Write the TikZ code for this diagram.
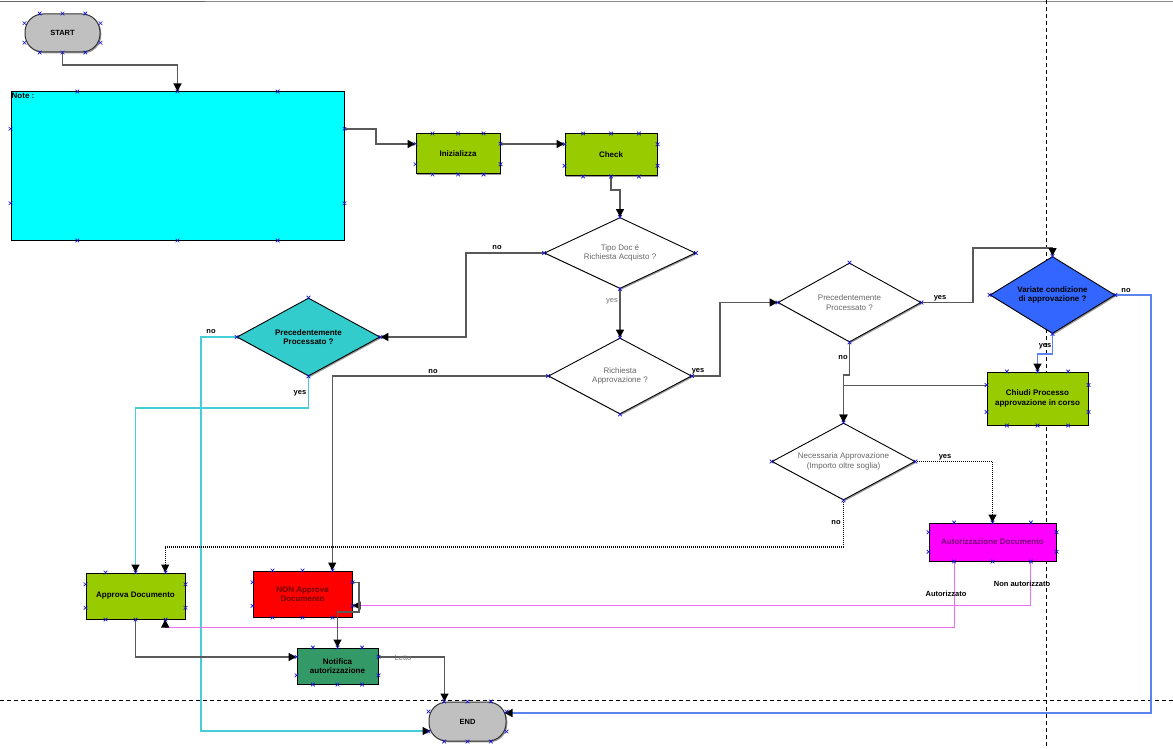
\documentclass[tikz,border=0pt]{standalone}
\usepackage{fontspec}
\setmainfont{Liberation Sans}
\usetikzlibrary{shapes.geometric, arrows.meta, calc, shadows}

\definecolor{notecyan}{RGB}{0,255,255}
\definecolor{stepgreen}{RGB}{153,204,0}
\definecolor{tealdia}{RGB}{51,204,204}
\definecolor{bluedia}{RGB}{51,102,255}
\definecolor{notifgreen}{RGB}{51,153,102}
\definecolor{autmagenta}{RGB}{255,0,255}
\definecolor{nonred}{RGB}{255,0,0}
\definecolor{termgray}{RGB}{192,192,192}
\definecolor{cyanline}{RGB}{70,205,215}
\definecolor{blueline}{RGB}{90,130,240}
\definecolor{pinkline}{RGB}{238,110,238}
\definecolor{markblue}{RGB}{20,20,210}

\tikzset{
  shd/.style={drop shadow={shadow xshift=1.3pt, shadow yshift=-1.3pt, fill=black!40, opacity=1}},
  termin/.style={rectangle, draw=black!80, line width=1pt, fill=termgray, rounded corners=18pt, shd, font=\bfseries\fontsize{7.5}{9}\selectfont},
  stepbox/.style={rectangle, draw=black, line width=1pt, shd, align=center, font=\bfseries\fontsize{8}{9.5}\selectfont},
  decision/.style={diamond, aspect=1.85, inner sep=0pt, draw=black, line width=0.9pt, fill=white, shd, align=center, text=black!60, font=\fontsize{8}{9.5}\selectfont},
  conn/.style={draw=black!65, line width=1.2pt, -{Triangle[length=8pt,width=8pt,color=black]}},
  dotconn/.style={conn, draw=black, dash pattern=on 1pt off 1pt},
  guide/.style={draw=black, line width=0.9pt, dash pattern=on 4pt off 3pt},
  lbl/.style={inner sep=1pt, font=\bfseries\fontsize{7.5}{9}\selectfont},
  glbl/.style={inner sep=1pt, text=black!55, font=\fontsize{7.5}{9}\selectfont},
  xpt/.pic={\draw[markblue, line width=0.7pt] (-1.8,-1.8) -- (1.8,1.8) (-1.8,1.8) -- (1.8,-1.8);}
}

% connection points of a box
\newcommand\boxpts[1]{%
  \foreach \f in {0.2,0.5,0.8}{
    \pic at ($(#1.north west)!\f!(#1.north east)$) {xpt};
    \pic at ($(#1.south west)!\f!(#1.south east)$) {xpt};}
  \foreach \f in {0.25,0.75}{
    \pic at ($(#1.north west)!\f!(#1.south west)$) {xpt};
    \pic at ($(#1.north east)!\f!(#1.south east)$) {xpt};}}
% connection points of a diamond
\newcommand\diapts[1]{\foreach \a in {north,south,east,west}{\pic at (#1.\a) {xpt};}}

\begin{document}
\begin{tikzpicture}[x=1pt, y=-1pt]
  \useasboundingbox (0,0) rectangle (1173,749);

  % page guides
  \draw[black!45, line width=0.8pt] (0,1.5) -- (1173,1.5);
  \draw[black!60, line width=1.5pt] (0,1.5) -- (205,1.5);
  \draw[guide] (1046,0) -- (1046,749);
  \draw[guide] (0,700) -- (1173,700);

  % nodes
  \node[termin, minimum width=75pt, minimum height=38pt] (start) at (62.5,33) {START};
  \node[stepbox, fill=notecyan, minimum width=333pt, minimum height=148pt,
    label={[anchor=north west, inner sep=1pt, font=\bfseries\fontsize{8}{9}\selectfont]north west:Note :}] (note) at (177.5,166) {};
  \node[stepbox, fill=stepgreen, minimum width=84pt, minimum height=40pt] (inz) at (458,154) {Inizializza};
  \node[stepbox, fill=stepgreen, minimum width=92pt, minimum height=42pt] (chk) at (611,155) {Check};
  \node[decision, minimum width=151pt, minimum height=71pt] (dtipo) at (620,253) {Tipo Doc é\\Richiesta Acquisto ?};
  \node[decision, minimum width=143pt, minimum height=76pt] (drich) at (620,376) {Richiesta\\Approvazione ?};
  \node[decision, fill=tealdia, text=black, font=\bfseries\fontsize{8}{9.5}\selectfont,
    minimum width=143pt, minimum height=78pt] (dprec1) at (308.5,337) {Precedentemente\\Processato ?};
  \node[decision, minimum width=143pt, minimum height=79pt] (dprec2) at (849.5,302.5) {Precedentemente\\Processato ?};
  \node[decision, fill=bluedia, text=black, font=\bfseries\fontsize{8}{9.5}\selectfont,
    minimum width=125pt, minimum height=77pt] (dvar) at (1052.5,295) {Variate condizione\\di approvazione ?};
  \node[stepbox, fill=stepgreen, minimum width=101pt, minimum height=53pt] (chiudi) at (1037.5,398.5) {Chiudi Processo\\approvazione in corso};
  \node[decision, minimum width=143pt, minimum height=77pt] (dnec) at (843.5,461.5) {Necessaria Approvazione\\(Importo oltre soglia)};
  \node[stepbox, fill=autmagenta, text={rgb,255:red,120;green,0;blue,120}, minimum width=127pt, minimum height=38pt] (autor) at (992.5,542) {Autorizzazione Documento};
  \node[stepbox, fill=stepgreen, minimum width=99pt, minimum height=46pt] (approva) at (135.5,596) {Approva Documento};
  \node[stepbox, fill=nonred, text={rgb,255:red,110;green,0;blue,0}, minimum width=99pt, minimum height=46pt] (nonapp) at (302.5,594) {NON Approva\\Documento};
  \node[stepbox, fill=notifgreen, minimum width=81pt, minimum height=36pt] (notif) at (337.5,666) {Notifica\\autorizzazione};
  \node[termin, minimum width=77pt, minimum height=39pt] (endn) at (467.5,721.5) {END};

  % connectors
  \draw[conn] (start.south) -- (62.5,65) -| (note.north);
  \draw[conn] ([yshift=37pt]note.east) -- (376,129) |- ([yshift=10pt]inz.west);
  \draw[conn] ([yshift=10pt]inz.east) -- ([yshift=10pt]inz.east -| chk.west);
  \draw[conn] (chk.south) -- (611,190) -| (dtipo.north);
  \draw[conn] (dtipo.south) -- (drich.north);
  \draw[conn] (dtipo.west) -- (466,253) |- (dprec1.east);
  \draw[conn, draw=cyanline] (dprec1.west) -- (201,337) |- ([xshift=2pt, yshift=-9.5pt]endn.west);
  \draw[conn, draw=cyanline] (dprec1.south) -- (308.5,408) -| (approva.north);
  \draw[conn] (drich.west) -| ([xshift=29.7pt]nonapp.north);
  \draw[conn] (drich.east) -- (720,376) |- (dprec2.west);
  \draw[conn] (dprec2.east) -- (973,302.5) |- (1052.5,248) -- (dvar.north);
  \draw[conn, draw=blueline] (dvar.east) -- (1151,295) |- ([xshift=-2pt, yshift=8.5pt]endn.east);
  \draw[conn, draw=blueline] (dvar.south) -- (1052.5,354) -| (chiudi.north);
  \draw[conn] (dprec2.south) -- (849.5,375) -| (dnec.north);
  \draw[conn] ([yshift=13pt]chiudi.west) -| (dnec.north);
  \draw[dotconn] (dnec.east) -| (autor.north);
  \draw[dotconn] (dnec.south) -- (843.5,547) -| ([xshift=29.7pt]approva.north);
  \draw[conn, draw=pinkline, line width=1pt] ([xshift=-38pt]autor.south) -- (954.5,627) -| ([xshift=29.7pt]approva.south);
  \draw[conn, draw=pinkline, line width=1pt] ([xshift=38pt]autor.south) |- ([yshift=-11.5pt]nonapp.east);
  \draw[conn] ([yshift=11.5pt]nonapp.east) -- (359,582.5) -- (359,612) -- (337.5,612) -- (notif.north);
  \draw[conn] (approva.south) |- ([yshift=9pt]notif.west);
  \draw[conn] ([yshift=9pt]notif.east) -| ([xshift=-23pt]endn.north);

  % connector labels
  \node[lbl] (ltipono) at (497,248) {no};
  \node[glbl] (ltipoyes) at (612,301) {yes};
  \node[lbl] (lprecno) at (211,332) {no};
  \node[lbl] (lprecyes) at (300,393) {yes};
  \node[lbl] (lrichno) at (433,372) {no};
  \node[lbl] (lrichyes) at (698,371) {yes};
  \node[lbl] (lprec2yes) at (940,298) {yes};
  \node[lbl] (lprec2no) at (843,358) {no};
  \node[lbl] (lvarno) at (1126,291) {no};
  \node[lbl] (lvaryes) at (1045,346) {yes};
  \node[lbl] (lnecyes) at (945,457) {yes};
  \node[lbl] (lnecno) at (836,523) {no};
  \node[lbl] (laut) at (946,594) {Autorizzato};
  \node[lbl] (lnonaut) at (1022,584) {Non autorizzato};
  \node[glbl] (lletto) at (403,658) {Letto};

  % connection points
  \foreach \n in {start,note,inz,chk,chiudi,autor,approva,nonapp,notif,endn}{\boxpts{\n}}
  \foreach \n in {dtipo,drich,dprec1,dprec2,dvar,dnec}{\diapts{\n}}
\end{tikzpicture}
\end{document}
